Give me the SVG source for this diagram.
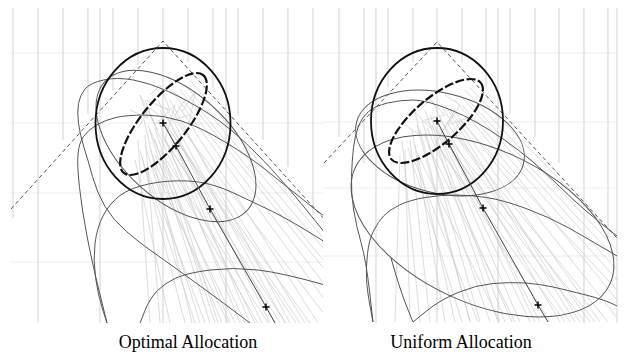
<svg xmlns="http://www.w3.org/2000/svg" width="626" height="354" viewBox="0 0 626 354">
<style>
.gv{stroke:#dadada;stroke-width:1.2;fill:none}
.gh{stroke:#eeeeee;stroke-width:1.2;fill:none}
.pt{stroke:#cdcdcd;stroke-width:0.8;fill:none;stroke-opacity:0.85}
.ell{stroke:#555;stroke-width:1;fill:none}
.circ{stroke:#111;stroke-width:1.8;fill:none}
.dell{stroke:#111;stroke-width:2.2;fill:none;stroke-dasharray:9 2.5}
.tri{stroke:#555;stroke-width:1;fill:none;stroke-dasharray:4 3}
.mean{stroke:#444;stroke-width:1;fill:none}
.mk{stroke:#000;stroke-width:1.5;fill:none}
.lbl{font-family:"Liberation Serif","Times New Roman",serif;font-size:18px;fill:#000;text-anchor:middle}
</style>
<defs>
<clipPath id="cl"><rect x="10" y="8" width="313" height="316"/></clipPath>
<clipPath id="cr"><rect x="323" y="8" width="295" height="315"/></clipPath>
<path id="plus" d="M-3.5,0H3.5M0,-3.5V3.5"/>
</defs>

<g id="panel-left" clip-path="url(#cl)">
<g id="grid-left">
<path class="gh" d="M10,53H325M10,123H325M10,193H325M10,262H325"/>
<path class="gv" d="M13,8V218M38,8V323M63,8V140M88,8V114M100,8V323M113,8V90M138,8V65M163,8V323M188,8V62M213,8V88M226,8V323M238,8V115M263,8V140M288,8V167M313,8V215"/>
</g>
<g id="particles-left">
<path class="pt" d="M150,130L230,323M160,110L250,323M170,100L290,323M175,95L325,300M145,145L200,323M155,140L215,323M165,125L262,323M180,90L325,270M140,150L185,323M158,120L240,323M168,118L275,323M172,110L305,323M150,150L222,323M162,135L255,323M185,85L325,250M135,160L170,323M148,125L210,323M178,105L318,323M165,140L280,323M155,155L235,323M190,80L325,240M145,135L160,323M170,130L296,323M160,150L268,323M150,115L245,323M175,120L325,315M142,158L195,323M168,145L286,323M183,100L325,285M152,165L228,323M158,100L270,323M138,140L150,323M173,135L310,323M147,170L205,323M163,160L258,323M188,95L325,262M155,128L218,323M166,108L285,323M144,120L192,323M177,140L300,323"/>
<path class="pt" d="M150,95L160,85L170,110L145,100L155,125L175,105L165,140M130,110L148,118L140,95L158,130M170,90L185,100L172,120L190,115M138,128L150,108L162,118M182,112L195,92L188,130"/>
</g>
<g id="ellipses-left">
<ellipse class="ell" cx="0" cy="0" rx="96" ry="54" transform="translate(176,146) rotate(42)"/>
<path class="ell" d="M250,323L230,308Q210,293 185,275Q160,257 150,250Q140,243 126.5,231.5Q113,220 105,206.5Q97,193 92.5,176.5Q88,160 84,147.5Q80,135 78.5,123.5Q77,112 78.5,103.5Q80,95 85,89Q90,83 103.5,80Q117,77 133.5,80Q150,83 168.5,91.5Q187,100 208.5,113.5Q230,127 256.5,153.5Q283,180 325,233"/>
<path class="ell" d="M107,323L99.5,292.5Q92,262 87,236Q82,210 79.5,187.5Q77,165 78,154Q79,143 83.5,136.5Q88,130 96.5,125Q105,120 116,117.5Q127,115 145,115Q163,115 181.5,121Q200,127 225,142Q250,157 268.5,172Q287,187 325,217"/>
<path class="ell" d="M107,323L102.5,309Q98,295 95.5,277.5Q93,260 95,243.5Q97,227 103.5,215Q110,203 120,195.5Q130,188 148.5,184Q167,180 188.5,181Q210,182 232.5,192.5Q255,203 272.5,211.5Q290,220 325,242"/>
<path class="ell" d="M140,323L145,310.5Q150,298 157.5,290.5Q165,283 176,278Q187,273 210,270Q233,267 258,270Q283,273 325,285"/>
</g>
<g id="fov-left"><path class="tri" d="M11,209L163,41L325,220"/></g>
<g id="prior-left">
<ellipse class="circ" cx="163" cy="123.5" rx="67.5" ry="75.5"/>
<ellipse class="dell" cx="0" cy="0" rx="63" ry="22.6" transform="translate(163.5,124) rotate(-51)"/>
</g>
<g id="mean-left">
<path class="mean" d="M163,123L176,146L210,209L266,307L275,323"/>
<use href="#plus" class="mk" x="163" y="123"/>
<use href="#plus" class="mk" x="176" y="146"/>
<use href="#plus" class="mk" x="210" y="209"/>
<use href="#plus" class="mk" x="266" y="307"/>
</g>
</g>

<g id="panel-right" clip-path="url(#cr)">
<g id="grid-right">
<path class="gh" d="M323,53H617M323,122H617M323,188H617M323,256H617"/>
<path class="gv" d="M339,8V137M364,8V163M376,8V323M388,8V87M413,8V62M437,8V323M462,8V62M486,8V87M498,8V323M510,8V113M535,8V137M559,8V163M584,8V323M608,8V238M617,8V323"/>
</g>
<g id="particles-right">
<path class="pt" d="M420,130L470,322M430,115L520,322M445,105L580,322M455,100L617,300M410,140L430,322M425,135L490,322M436,121L540,322M460,95L617,270M405,150L410,322M432,125L505,322M440,118L560,322M450,110L600,322M415,145L455,322M438,130L530,322M465,90L617,250M400,155L395,322M422,120L480,322M455,112L617,318M442,135L570,322M428,145L515,322M470,88L617,238M412,130L445,322M448,125L590,322M435,140L550,322M425,110L498,322M458,118L617,290M408,148L462,322M445,142L585,322M462,105L617,280M418,155L500,322M432,100L535,322M402,140L420,322M452,130L608,322M414,160L478,322M440,150L565,322M468,100L617,260M427,128L512,322M443,108L575,322M417,125L470,322M450,140L595,322"/>
<path class="pt" d="M420,110L430,100L445,115L425,120L440,135L455,110L435,145M405,125L420,135L415,112L430,128M445,95L460,105L448,125L468,118"/>
</g>
<g id="ellipses-right">
<ellipse class="ell" cx="0" cy="0" rx="86" ry="50" transform="translate(440,143) rotate(14)"/>
<ellipse class="ell" cx="0" cy="0" rx="140" ry="77" transform="translate(482.5,226) rotate(24.4)"/>
<path class="ell" d="M373,322L369.5,291Q366,260 361,242.5Q356,225 353.5,209Q351,193 351.5,176.5Q352,160 353.5,147.5Q355,135 358.5,126Q362,117 368.5,111.5Q375,106 387.5,103Q400,100 413,100Q426,100 451,110Q476,120 504.5,140Q533,160 558,185Q583,210 617,236"/>
<path class="ell" d="M373,322L370,306Q367,290 366.5,278.5Q366,267 367.5,253.5Q369,240 373.5,231Q378,222 383.5,216Q389,210 399.5,205Q410,200 425,197.5Q440,195 455,195Q470,195 486.5,197.5Q503,200 526,208.5Q549,217 567,227Q585,237 617,256"/>
<path class="ell" d="M413,322L406.5,306Q400,290 391,258"/>
<path class="ell" d="M413,322L426.5,311Q440,300 458,292.5Q476,285 493,283.5Q510,282 525,283Q540,284 553,287Q566,290 586,295Q606,300 617,306"/>
</g>
<g id="fov-right"><path class="tri" d="M324,163L437,42L617,238"/></g>
<g id="prior-right">
<ellipse class="circ" cx="437" cy="121" rx="66" ry="73"/>
<ellipse class="dell" cx="0" cy="0" rx="58.8" ry="22.6" transform="translate(436,121) rotate(-40.7)"/>
</g>
<g id="mean-right">
<path class="mean" d="M437,121L449,144L483,208L538,305L548,322"/>
<use href="#plus" class="mk" x="437" y="121"/>
<use href="#plus" class="mk" x="449" y="144"/>
<use href="#plus" class="mk" x="483" y="208"/>
<use href="#plus" class="mk" x="538" y="305"/>
</g>
</g>

<g id="labels">
<text class="lbl" x="188" y="348">Optimal Allocation</text>
<text class="lbl" x="461" y="348">Uniform Allocation</text>
</g>
</svg>
